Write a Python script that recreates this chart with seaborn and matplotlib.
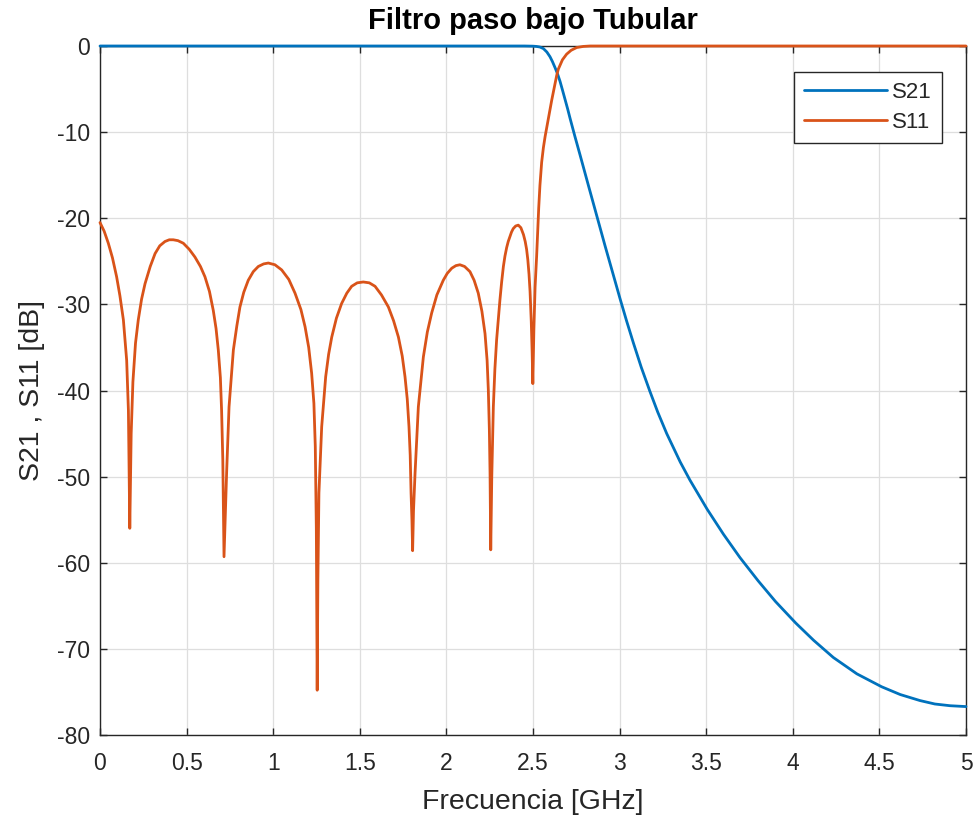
import numpy as np
import pandas as pd
import matplotlib
matplotlib.use("Agg")
import matplotlib.pyplot as plt
import seaborn as sns

# ---------------- data ----------------
s21_freq = [0.0, 0.5, 1.0, 1.5, 2.0, 2.3, 2.45, 2.50, 2.52, 2.54, 2.56, 2.58,
            2.598, 2.612, 2.627, 2.641, 2.656, 2.670, 2.685, 2.700, 2.714,
            2.742, 2.771, 2.82, 2.868, 2.916, 2.964, 3.002, 3.04, 3.08, 3.125,
            3.175, 3.22, 3.272, 3.35, 3.406, 3.506, 3.60, 3.695, 3.80, 3.90,
            4.017, 4.12, 4.234, 4.37, 4.513, 4.62, 4.734, 4.82, 4.908, 5.0]
s21_db = [0.0, 0.0, 0.0, 0.0, 0.0, 0.0, 0.0, -0.02, -0.05, -0.12, -0.3, -0.7,
          -1.24, -1.8, -2.5, -3.2, -4.1, -5.1, -6.2, -7.3, -8.4,
          -10.5, -12.6, -16.2, -19.7, -23.2, -26.6, -29.3, -31.9, -34.5, -37.3,
          -40.1, -42.5, -45.0, -48.3, -50.4, -53.8, -56.7, -59.4, -62.1, -64.5,
          -67.0, -69.0, -71.0, -72.9, -74.4, -75.3, -76.0, -76.4, -76.6, -76.7]

s11_freq = [
    # start -> dip 1
    0.000, 0.024, 0.048, 0.072, 0.096, 0.115, 0.135, 0.154, 0.164, 0.172,
    # dip 1 -> dip 2
    0.180, 0.190, 0.205, 0.221, 0.240, 0.260, 0.290, 0.318, 0.345, 0.375,
    0.400, 0.423, 0.450, 0.481, 0.515, 0.548, 0.580, 0.606, 0.632, 0.654,
    0.670, 0.683, 0.695, 0.702, 0.709, 0.716,
    # dip 2 -> dip 3
    0.724, 0.731, 0.745, 0.770, 0.790, 0.808, 0.830, 0.856, 0.885, 0.914,
    0.945, 0.972, 1.010, 1.049, 1.090, 1.126, 1.160, 1.184, 1.205, 1.222,
    1.235, 1.243, 1.249, 1.254,
    # dip 3 -> dip 4
    1.258, 1.264, 1.280, 1.303, 1.320, 1.338, 1.365, 1.395, 1.425, 1.453,
    1.485, 1.520, 1.555, 1.588, 1.625, 1.665, 1.695, 1.723, 1.745, 1.761,
    1.774, 1.784, 1.791, 1.796, 1.801, 1.805,
    # dip 4 -> dip 5
    1.810, 1.819, 1.838, 1.867, 1.890, 1.915, 1.945, 1.982, 2.005, 2.031,
    2.055, 2.078, 2.105, 2.136, 2.160, 2.184, 2.205, 2.223, 2.235, 2.242,
    2.248, 2.252, 2.256,
    # dip 5 -> dip 6
    2.262, 2.271, 2.280, 2.290, 2.300, 2.309, 2.319, 2.329, 2.338, 2.348,
    2.357, 2.367, 2.376, 2.386, 2.400, 2.415, 2.430, 2.445, 2.455, 2.463,
    2.470, 2.477, 2.483, 2.490, 2.495, 2.499,
    # dip 6 -> stopband
    2.505, 2.512, 2.517, 2.521, 2.527, 2.533, 2.540, 2.550, 2.560, 2.570,
    2.579, 2.593, 2.608, 2.625, 2.637, 2.646, 2.670, 2.694, 2.720, 2.752,
    2.790, 2.830, 3.000, 3.500, 4.000, 4.500, 5.000]
s11_db = [
    -20.5, -21.5, -22.9, -24.6, -26.8, -29.0, -31.8, -36.5, -42.3, -56.0,
    -45.0, -39.0, -34.5, -31.8, -29.4, -27.6, -25.6, -24.1, -23.2, -22.7,
    -22.5, -22.5, -22.6, -22.9, -23.6, -24.5, -25.6, -26.8, -28.5, -30.7,
    -32.8, -35.3, -38.5, -42.3, -48.0, -59.3,
    -54.0, -49.6, -41.9, -35.3, -32.5, -30.3, -28.6, -27.2, -26.2, -25.6,
    -25.3, -25.2, -25.4, -26.0, -27.1, -28.7, -30.6, -32.6, -35.0, -38.0,
    -41.5, -46.5, -56.0, -74.8,
    -62.0, -51.9, -44.2, -38.4, -35.8, -33.8, -31.6, -29.9, -28.7, -27.9,
    -27.5, -27.4, -27.5, -27.9, -28.9, -30.3, -31.9, -33.8, -36.0, -38.4,
    -41.0, -44.2, -47.5, -51.9, -55.0, -58.6,
    -54.0, -49.6, -41.9, -36.1, -33.2, -31.0, -28.9, -27.2, -26.4, -25.8,
    -25.5, -25.4, -25.6, -26.2, -27.2, -28.7, -30.8, -33.4, -36.5, -39.9,
    -44.5, -49.6, -58.5,
    -50.0, -41.9, -37.5, -34.1, -31.6, -29.5, -27.4, -25.6, -24.4, -23.4,
    -22.7, -22.1, -21.6, -21.2, -20.9, -20.8, -21.1, -21.9, -22.7, -23.6,
    -24.8, -26.5, -28.5, -32.0, -35.5, -39.2,
    -33.0, -28.0, -26.0, -24.4, -21.6, -18.8, -16.2, -13.5, -11.8, -10.5,
    -9.5, -7.9, -6.3, -4.6, -3.4, -2.7, -1.6, -0.95, -0.5, -0.18,
    -0.05, 0.0, 0.0, 0.0, 0.0, 0.0, 0.0]

series_names = ["S21", "S11"]
series_colors = ["#0072BD", "#D95319"]
x_ticks = [0, 0.5, 1, 1.5, 2, 2.5, 3, 3.5, 4, 4.5, 5]
x_tick_labels = ["0", "0.5", "1", "1.5", "2", "2.5", "3", "3.5", "4", "4.5", "5"]
y_ticks = [-80, -70, -60, -50, -40, -30, -20, -10, 0]

title_text = "Filtro paso bajo Tubular"
x_label = "Frecuencia [GHz]"
y_label = "S21 , S11 [dB]"

# ---------------- figure ----------------
sns.set_theme(style="white")
plt.rcParams["font.family"] = ["Liberation Sans", "DejaVu Sans"]
plt.rcParams["axes.unicode_minus"] = False
plt.rcParams["axes.edgecolor"] = "#262626"
plt.rcParams["xtick.color"] = "#262626"
plt.rcParams["ytick.color"] = "#262626"

df = pd.concat([
    pd.DataFrame({"f": s21_freq, "db": s21_db, "serie": series_names[0]}),
    pd.DataFrame({"f": s11_freq, "db": s11_db, "serie": series_names[1]}),
], ignore_index=True)

fig = plt.figure(figsize=(9.77, 8.18), dpi=100)
ax = fig.add_axes([100 / 977, 1 - 735 / 818, 866 / 977, 689 / 818])

sns.lineplot(data=df, x="f", y="db", hue="serie", hue_order=series_names,
             palette=series_colors, estimator=None, sort=False,
             linewidth=2.0, ax=ax)
for ln in ax.get_lines():
    ln.set_clip_on(False)
    ln.set_zorder(3)

ax.set_xlim(0, 5)
ax.set_ylim(-80, 0)
ax.set_xticks(x_ticks)
ax.set_xticklabels(x_tick_labels)
ax.set_yticks(y_ticks)
ax.grid(True, color="#dedede", linewidth=0.9)
ax.set_axisbelow(True)
for s in ax.spines.values():
    s.set_visible(True)
    s.set_linewidth(1.0)
    s.set_color("#262626")
    s.set_zorder(2.5)
ax.tick_params(axis="both", which="both", direction="in", length=5, width=1,
               top=True, right=True, bottom=True, left=True,
               labelsize=16.5, labelcolor="#262626")
ax.tick_params(axis="x", pad=12)
ax.tick_params(axis="y", pad=7)

ax.set_title(title_text, fontsize=21, fontweight="bold", color="black", pad=12)
ax.set_xlabel(x_label, fontsize=20.5, color="#262626", labelpad=10)
ax.set_ylabel(y_label, fontsize=20.5, color="#262626", labelpad=9)

leg = ax.legend(loc="upper right", bbox_to_anchor=(0.9723, 0.9623),
                borderaxespad=0, fontsize=16, frameon=True, fancybox=False,
                framealpha=1, edgecolor="#262626", handlelength=3.7,
                handletextpad=0.25, borderpad=0.45, labelspacing=0.4, title=None)
leg.get_frame().set_linewidth(1.0)
for t in leg.get_texts():
    t.set_color("#262626")

fig.savefig("out.png", dpi=100)
